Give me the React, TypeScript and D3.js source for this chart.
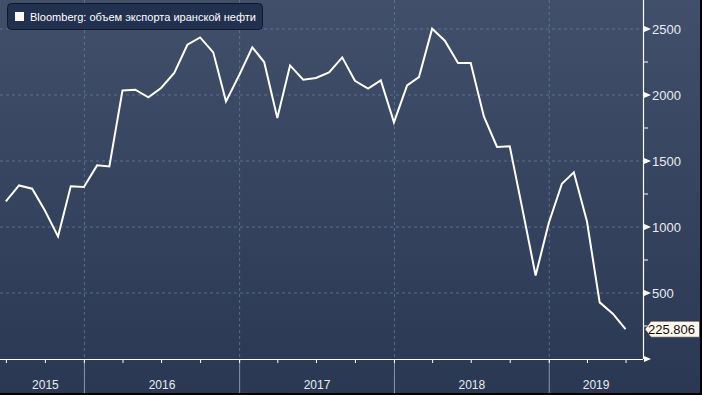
import React from 'react';
import * as d3 from 'd3';

// monthly values, Jul 2015 .. Jul 2019 (thousand barrels/day)
const values = [
  1194, 1315, 1290, 1125, 929, 1308,
  1303, 1467, 1459, 2035, 2040, 1982, 2053, 2167, 2381, 2436, 2323, 1951,
  2150, 2361, 2250, 1826, 2224, 2116, 2129, 2172, 2285, 2108, 2048, 2111,
  1793, 2073, 2136, 2502, 2411, 2242, 2242, 1838, 1606, 1611, 1118, 633,
  1030, 1328, 1414, 1043, 429, 343, 225.806,
];
const months = d3.timeMonth.range(new Date(2015, 6, 1), new Date(2019, 7, 1));
const years = [2015, 2016, 2017, 2018, 2019];
const yTicks = [0, 500, 1000, 1500, 2000, 2500];
const legendText = 'Bloomberg: объем экспорта иранской нефти';
const lastLabel = '225.806';

const W = 700, H = 393;
const plotR = 643, plotB = 359;

export default function App() {
  const x = d3.scaleTime()
    .domain([new Date(2015, 5, 16), new Date(2019, 7, 10)])
    .range([0, plotR]);
  const y = d3.scaleLinear().domain([0, 2500]).range([plotB, 29]);

  const data = months.map((d, i) => ({ date: d, value: values[i] }));
  const line = d3.line<{ date: Date; value: number }>()
    .x(d => x(d.date) - 0.5)
    .y(d => y(d.value));

  const minor = d3.range(250, 2750, 500);
  const quarters = d3.timeMonth.every(3)!.range(new Date(2015, 0, 1), new Date(2019, 8, 1))
    .filter(d => x(d) >= 0 && x(d) <= plotR);
  const yearStarts = years.slice(1).map(yr => new Date(yr, 0, 1));
  const lastY = y(values[values.length - 1]);
  const font = 'Liberation Sans, Arial, sans-serif';

  return (
    <svg width={702} height={395} style={{ position: 'fixed', left: 0, top: 0 }}>
      <defs>
        <linearGradient id="bg" x1="0" y1="0" x2="0" y2="1">
          <stop offset="0" stopColor="#414f6b" />
          <stop offset="1" stopColor="#2a3853" />
        </linearGradient>
      </defs>
      <rect width={702} height={395} fill="#000" />
      <rect width={W} height={H} fill="url(#bg)" />

      {/* grid */}
      {yTicks.slice(1).map(t => (
        <line key={t} x1={0} x2={plotR} y1={y(t)} y2={y(t)} stroke="#6a82a0" strokeDasharray="3,3" strokeWidth={1} opacity={0.7} />
      ))}
      {yearStarts.map((d, i) => (
        <line key={i} x1={x(d)} x2={x(d)} y1={0} y2={plotB} stroke="#6a82a0" strokeDasharray="3,3" opacity={0.7} />
      ))}

      {/* year separators below axis */}
      {yearStarts.map((d, i) => (
        <line key={i} x1={x(d)} x2={x(d)} y1={plotB} y2={H} stroke="#8a96aa" strokeWidth={1} />
      ))}

      {/* line */}
      <path d={line(data) || ''} fill="none" stroke="#fff" strokeWidth={2} strokeLinejoin="miter" />

      {/* axes */}
      <line x1={0} x2={plotR} y1={plotB + 0.5} y2={plotB + 0.5} stroke="#fff" strokeWidth={1.2} />
      <line x1={plotR + 0.5} x2={plotR + 0.5} y1={0} y2={plotB} stroke="#fff" strokeWidth={1.2} />
      {quarters.map((d, i) => (
        <line key={i} x1={x(d)} x2={x(d)} y1={plotB} y2={plotB + 4} stroke="#fff" />
      ))}
      {minor.map(t => (
        <line key={t} x1={plotR} x2={plotR + 5} y1={y(t)} y2={y(t)} stroke="#fff" />
      ))}
      {yTicks.map(t => (
        <g key={t} transform={`translate(${plotR + 1},${y(t)})`}>
          <path d="M0,-3L7,0L0,3Z" fill="#fff" />
          {t > 0 && (
            <text x={8} y={4.5} fill="#e8ecf2" fontSize={13} fontFamily={font}>{t}</text>
          )}
        </g>
      ))}

      {/* year labels */}
      {years.map((yr, i) => {
        const a = i === 0 ? x(months[0]) : x(new Date(yr, 0, 1));
        const b = Math.min(plotR, x(new Date(yr + 1, 0, 1)));
        return (
          <text key={yr} x={(a + b) / 2} y={389} textAnchor="middle" fill="#e8ecf2" fontSize={12} fontFamily={font}>{yr}</text>
        );
      })}

      {/* last value tag */}
      <g transform={`translate(${plotR + 2},${lastY})`}>
        <path d="M0,0L6,-8L54.5,-8L54.5,8L6,8Z" fill="#fdf6ea" stroke="#333" strokeWidth={0.6} />
        <text x={3} y={4.5} fill="#111" fontSize={13} fontFamily={font}>{lastLabel}</text>
      </g>

      {/* legend */}
      <rect x={7.5} y={3.5} width={255} height={26} rx={4} fill="#233150" stroke="#111827" strokeWidth={1} />
      <rect x={15} y={12} width={9} height={9} fill="#fdf6f2" />
      <text x={30} y={21} fill="#fff" fontSize={11} fontFamily={font} textLength={226} lengthAdjust="spacingAndGlyphs">{legendText}</text>
    </svg>
  );
}
